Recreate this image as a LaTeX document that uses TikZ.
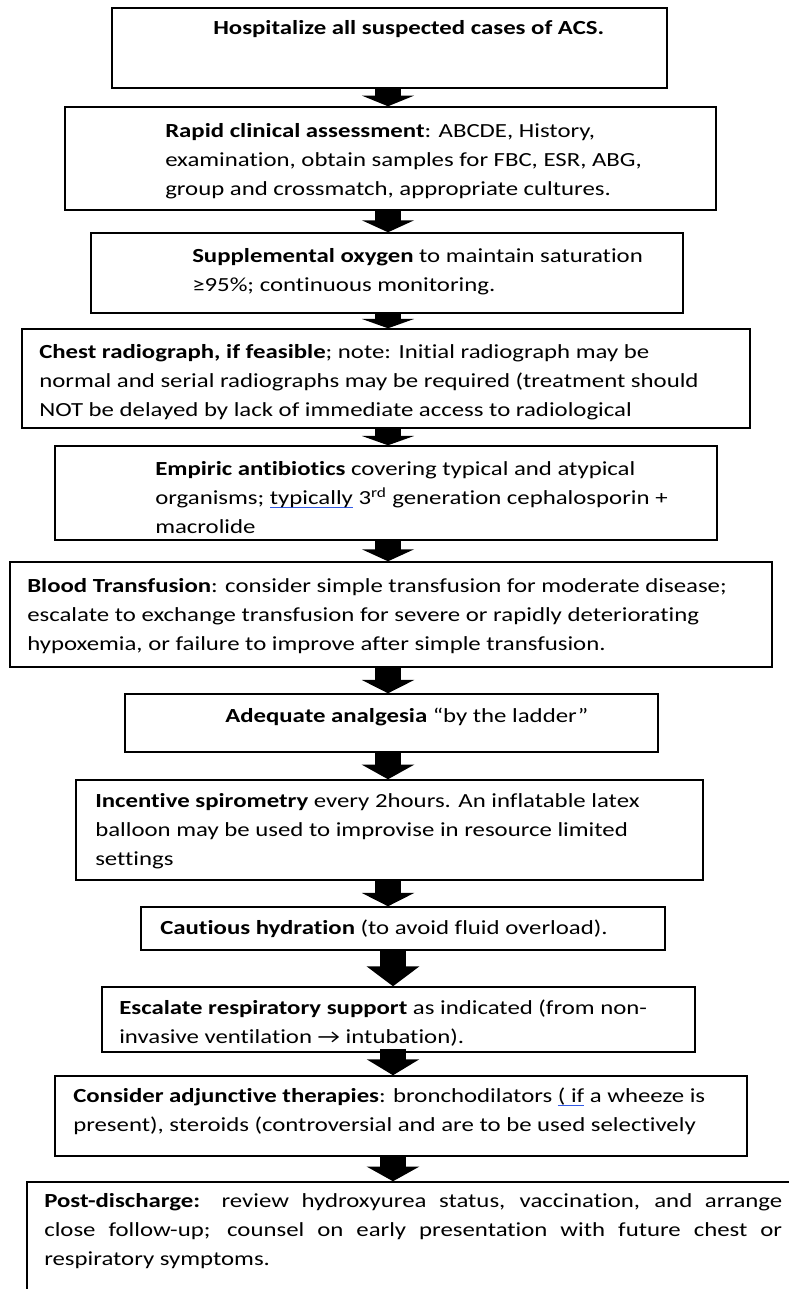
\documentclass[tikz,border=0pt]{standalone}
\usepackage{fontspec}
\setmainfont{Carlito}[FakeStretch=1.24, Ligatures=NoCommon]
\usetikzlibrary{arrows.meta,fit}
\definecolor{spellblue}{RGB}{50,90,230}
\newcommand\spellul[1]{\setbox0\hbox{#1}\rlap{\color{spellblue}\rule[-3pt]{\wd0}{1pt}}#1}
\begin{document}
\begin{tikzpicture}[x=0.75pt,y=-0.75pt,
  box/.style={draw, line width=1.1pt, inner sep=0pt, rectangle},
  txt/.style={anchor=north west, inner sep=0pt, align=left, font=\fontsize{15}{21.75}\selectfont},
  flow/.style={line width=20pt, -{Triangle[width=39pt,length=#1]}},
]
\useasboundingbox (0,0) rectangle (789,1289);
\clip (0,0) rectangle (789,1289);
\fill[white] (0,0) rectangle (789,1289);

\node[box, fit={(112,8) (667,88)}] (b1) {};
\node[box, fit={(65,107) (716,210)}] (b2) {};
\node[box, fit={(91,233) (683,313)}] (b3) {};
\node[box, fit={(22,329) (750,428)}] (b4) {};
\node[box, fit={(55,446) (717,540)}] (b5) {};
\node[box, fit={(10,562) (772,667)}] (b6) {};
\node[box, fit={(125,694) (658,752)}] (b7) {};
\node[box, fit={(76,780) (703,880)}] (b8) {};
\node[box, fit={(141,907) (665,950)}] (b9) {};
\node[box, fit={(102,987) (695,1052)}] (b10) {};
\node[box, fit={(55,1076) (747,1156)}] (b11) {};
\node[box, fit={(27,1182) (820,1320)}] (b12) {};

\node[txt] (t1) at (213,13.7) {\strut\textbf{Hospitalize all suspected cases of ACS.}};
\node[txt] (t2) at (165,116.7) {\strut\textbf{Rapid clinical assessment}: ABCDE, History,\\examination, obtain samples for FBC, ESR, ABG,\\group and crossmatch, appropriate cultures.};
\node[txt] (t3) at (192,241.7) {\strut\textbf{Supplemental oxygen} to maintain saturation\\≥95\%; continuous monitoring.};
\node[txt] (t4) at (39,337.7) {\strut\textbf{Chest radiograph, if feasible}; note: Initial radiograph may be\\normal and serial radiographs may be required (treatment should\\NOT be delayed by lack of immediate access to radiological};
\node[txt] (t5) at (155,454.7) {\strut\textbf{Empiric antibiotics} covering typical and atypical\\organisms; \spellul{typically} 3\textsuperscript{rd} generation cephalosporin +\\macrolide};
\node[txt] (t6) at (27,571.7) {\strut\textbf{Blood Transfusion}: consider simple transfusion for moderate disease;\\escalate to exchange transfusion for severe or rapidly deteriorating\\hypoxemia, or failure to improve after simple transfusion.};
\node[txt] (t7) at (225,701.7) {\strut\textbf{Adequate analgesia} “by the ladder”};
\node[txt] (t8) at (95,786.7) {\strut\textbf{Incentive spirometry} every 2hours. An inflatable latex\\balloon may be used to improvise in resource limited\\settings};
\node[txt] (t9) at (160,913.7) {\strut\textbf{Cautious hydration} (to avoid fluid overload).};
\node[txt] (t10) at (119,993.7) {\strut\textbf{Escalate respiratory support} as indicated (from non-\\invasive ventilation → intubation).};
\node[txt] (t11) at (73,1081.7) {\strut\textbf{Consider adjunctive therapies}: bronchodilators \spellul{( if} a wheeze is\\present), steroids (controversial and are to be used selectively};
\node[txt] (t12) at (44,1186.7) {\strut\makebox[553.5pt][s]{\textbf{Post-discharge:} review hydroxyurea status, vaccination, and arrange}\\\makebox[553.5pt][s]{close follow-up; counsel on early presentation with future chest or}\\respiratory symptoms.};

\coordinate (ax) at (388,0);
\coordinate (bx) at (393,0);
\draw[flow=8pt] (b1.south -| ax) -- (b2.north -| ax);
\draw[flow=9pt] (b2.south -| ax) -- (b3.north -| ax);
\draw[flow=7pt] (b3.south -| ax) -- (b4.north -| ax);
\draw[flow=7pt] (b4.south -| ax) -- (b5.north -| ax);
\draw[flow=9pt] (b5.south -| ax) -- (b6.north -| ax);
\draw[flow=10pt] (b6.south -| ax) -- (b7.north -| ax);
\draw[flow=11pt] (b7.south -| ax) -- (b8.north -| ax);
\draw[flow=10pt] (b8.south -| ax) -- (b9.north -| ax);
\draw[flow=15pt] (b9.south -| bx) -- (b10.north -| bx);
\draw[flow=12pt] ([yshift=3pt]b10.south -| bx) -- (b11.north -| bx);
\draw[flow=11pt] (b11.south -| bx) -- (b12.north -| bx);
\end{tikzpicture}
\end{document}
